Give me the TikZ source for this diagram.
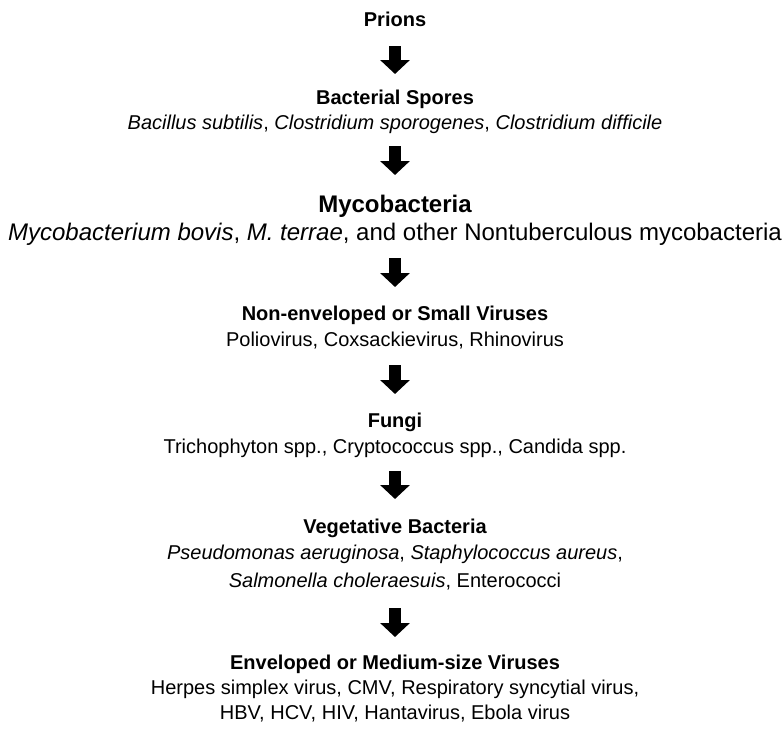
\documentclass[tikz,border=0pt]{standalone}
\usepackage{fontspec}
\setmainfont{Liberation Sans}
\usetikzlibrary{arrows.meta}
\tikzset{
  txt/.style={anchor=base, inner sep=0pt, font=\fontsize{20}{24}\selectfont},
  ttl/.style={txt, font=\fontsize{20}{24}\selectfont\bfseries},
  bigtxt/.style={anchor=base, inner sep=0pt, font=\fontsize{24}{28}\selectfont},
  bigttl/.style={bigtxt, font=\fontsize{24}{28}\selectfont\bfseries},
  blockarrow/.style={line width=12pt, -{Triangle[width=29pt,length=14pt]}}
}
\begin{document}
\begin{tikzpicture}[x=1pt,y=-1pt]
\useasboundingbox (0,0) rectangle (784,728);
\def\cx{395}
\node[ttl] (t1) at (\cx,27) {Prions};
\node[ttl] (t2) at (\cx,104) {Bacterial Spores};
\node[txt] (s2) at (\cx,129) {\textit{Bacillus subtilis}, \textit{Clostridium sporogenes}, \textit{Clostridium difficile}};
\node[bigttl] (t3) at (\cx,212) {Mycobacteria};
\node[bigtxt] (s3) at (\cx,240) {\textit{Mycobacterium bovis}, \textit{M. terrae}, and other Nontuberculous mycobacteria};
\node[ttl] (t4) at (\cx,320) {Non-enveloped or Small Viruses};
\node[txt] (s4) at (\cx,346) {Poliovirus, Coxsackievirus, Rhinovirus};
\node[ttl] (t5) at (\cx,427) {Fungi};
\node[txt] (s5) at (\cx,453) {Trichophyton spp., Cryptococcus spp., Candida spp.};
\node[ttl] (t6) at (\cx,533) {Vegetative Bacteria};
\node[txt] (s6a) at (\cx,559) {\textit{Pseudomonas aeruginosa}, \textit{Staphylococcus aureus},};
\node[txt] (s6b) at (\cx,587) {\textit{Salmonella choleraesuis}, Enterococci};
\node[ttl] (t7) at (\cx,669) {Enveloped or Medium-size Viruses};
\node[txt] (s7a) at (\cx,694) {Herpes simplex virus, CMV, Respiratory syncytial virus,};
\node[txt] (s7b) at (\cx,719) {HBV, HCV, HIV, Hantavirus, Ebola virus};
\coordinate (a1s) at (\cx,46);  \coordinate (a1e) at (\cx,74);
\coordinate (a2s) at (\cx,146); \coordinate (a2e) at (\cx,175);
\coordinate (a3s) at (\cx,258); \coordinate (a3e) at (\cx,287);
\coordinate (a4s) at (\cx,365); \coordinate (a4e) at (\cx,394);
\coordinate (a5s) at (\cx,471); \coordinate (a5e) at (\cx,499);
\coordinate (a6s) at (\cx,608); \coordinate (a6e) at (\cx,637);
\foreach \i in {1,...,6} {\draw[blockarrow] (a\i s) -- (a\i e);}
\end{tikzpicture}
\end{document}
